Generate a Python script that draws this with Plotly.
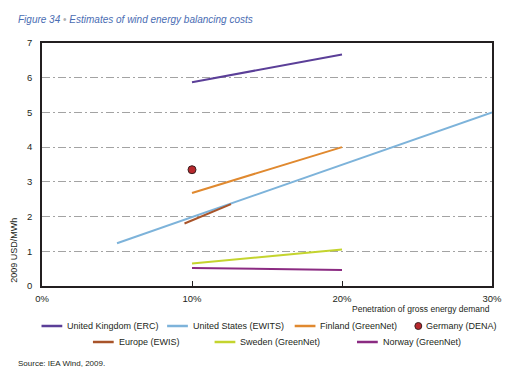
import plotly.graph_objects as go

# ---------------- data ----------------
series_names = [
    "United Kingdom (ERC)", "United States (EWITS)", "Finland (GreenNet)",
    "Germany (DENA)", "Europe (EWIS)", "Sweden (GreenNet)", "Norway (GreenNet)",
]
uk_x = [10, 20]
uk_y = [5.87, 6.67]
us_x = [5, 30]
us_y = [1.23, 5.0]
finland_x = [10, 20]
finland_y = [2.68, 4.0]
germany_x = [10]
germany_y = [3.35]
europe_x = [9.5, 12.6]
europe_y = [1.8, 2.36]
sweden_x = [10, 20]
sweden_y = [0.65, 1.05]
norway_x = [10, 20]
norway_y = [0.52, 0.46]

x_tick_values = [0, 10, 20, 30]
x_tick_labels = ["0%", "10%", "20%", "30%"]
y_tick_values = [0, 1, 2, 3, 4, 5, 6, 7]
y_tick_labels = ["0", "1", "2", "3", "4", "5", "6", "7"]

colors = {
    "United Kingdom (ERC)": "#5b3f98",
    "United States (EWITS)": "#7db3da",
    "Finland (GreenNet)": "#e0892f",
    "Germany (DENA)": "#b8282d",
    "Europe (EWIS)": "#a8542a",
    "Sweden (GreenNet)": "#c4d42e",
    "Norway (GreenNet)": "#8b2b82",
}

line_data = [
    ("United Kingdom (ERC)", uk_x, uk_y),
    ("United States (EWITS)", us_x, us_y),
    ("Finland (GreenNet)", finland_x, finland_y),
    ("Europe (EWIS)", europe_x, europe_y),
    ("Sweden (GreenNet)", sweden_x, sweden_y),
    ("Norway (GreenNet)", norway_x, norway_y),
]

# ---------------- layout constants ----------------
W, H = 514, 372
ML, MR, MT, MB = 41.5, 17.5, 43, 86
FONT = "Liberation Sans"
TEXT = "#231f20"

fig = go.Figure()
for name, xs, ys in line_data:
    fig.add_trace(go.Scatter(x=xs, y=ys, mode="lines", name=name,
                             line=dict(color=colors[name], width=2),
                             showlegend=False))
fig.add_trace(go.Scatter(x=germany_x, y=germany_y, mode="markers",
                         name="Germany (DENA)",
                         marker=dict(color=colors["Germany (DENA)"], size=8,
                                     line=dict(color="#3a2020", width=1)),
                         showlegend=False))

fig.update_layout(
    width=W, height=H,
    margin=dict(l=ML, r=MR, t=MT, b=MB, pad=0),
    paper_bgcolor="white", plot_bgcolor="white",
    font=dict(family=FONT, size=9, color=TEXT),
    xaxis=dict(range=[0, 30], tickvals=x_tick_values, ticktext=x_tick_labels,
               showgrid=False, zeroline=False, showline=True, mirror=True,
               linecolor="#231f20", linewidth=1.5, ticks="inside", ticklen=5,
               tickcolor="#231f20", ticklabelstandoff=3,
               tickfont=dict(size=9.5, color=TEXT)),
    yaxis=dict(range=[0, 7], tickvals=y_tick_values, ticktext=y_tick_labels,
               showgrid=True, gridcolor="#a3a3a3", griddash="8px,3px,2px,3px",
               gridwidth=1, zeroline=False, showline=True, mirror=True,
               linecolor="#231f20", linewidth=1.5, ticks="",
               ticklabelstandoff=6, tickfont=dict(size=9.5, color=TEXT)),
)

PW = W - ML - MR
PH = H - MT - MB


def px_x(p):
    return (p - ML) / PW


def px_y(p):
    return (H - MB - p) / PH


annotations = []
shapes = []

# title
annotations.append(dict(
    x=px_x(15), y=px_y(19), xref="paper", yref="paper", xanchor="left",
    yanchor="middle", showarrow=False,
    text="<i>Figure 34</i> <span style='color:#b0b0b0'>•</span> <i>Estimates of wind energy balancing costs</i>",
    font=dict(family=FONT, size=10, color="#4a6db3")))

# axis titles
annotations.append(dict(
    x=px_x(497), y=px_y(309), xref="paper", yref="paper", xanchor="right",
    yanchor="middle", showarrow=False, text="Penetration of gross energy demand",
    font=dict(size=8.5, color=TEXT)))
annotations.append(dict(
    x=px_x(13), y=px_y(250), xref="paper", yref="paper", xanchor="center",
    yanchor="middle", showarrow=False, text="2009 USD/MWh", textangle=-90,
    font=dict(size=9, color=TEXT)))

# source
annotations.append(dict(
    x=px_x(15), y=px_y(363), xref="paper", yref="paper", xanchor="left",
    yanchor="middle", showarrow=False, text="Source: IEA Wind, 2009.",
    font=dict(size=8, color=TEXT)))

# legend (two rows, like the reference)
legend_rows = [
    (326, [("United Kingdom (ERC)", 41), ("United States (EWITS)", 168),
           ("Finland (GreenNet)", 297), ("Germany (DENA)", 416)]),
    (342, [("Europe (EWIS)", 93), ("Sweden (GreenNet)", 216),
           ("Norway (GreenNet)", 360)]),
]
for ly, items in legend_rows:
    for name, lx in items:
        if name == "Germany (DENA)":
            cx = lx + 6
            shapes.append(dict(type="circle", xref="paper", yref="paper",
                               x0=px_x(cx - 3.5), x1=px_x(cx + 3.5),
                               y0=px_y(ly + 3.5), y1=px_y(ly - 3.5),
                               fillcolor=colors[name],
                               line=dict(color="#3a2020", width=1)))
            tx = lx + 12
        else:
            shapes.append(dict(type="line", xref="paper", yref="paper",
                               x0=px_x(lx), x1=px_x(lx + 21),
                               y0=px_y(ly), y1=px_y(ly),
                               line=dict(color=colors[name], width=2.5)))
            tx = lx + 24
        annotations.append(dict(
            x=px_x(tx), y=px_y(ly), xref="paper", yref="paper",
            xanchor="left", yanchor="middle", showarrow=False, text=name,
            font=dict(size=9, color=TEXT)))

fig.update_layout(annotations=annotations, shapes=shapes)
fig.write_html("out.html", config={"displayModeBar": False},
               post_script="document.body.style.margin='0px';document.body.style.padding='0px';")
